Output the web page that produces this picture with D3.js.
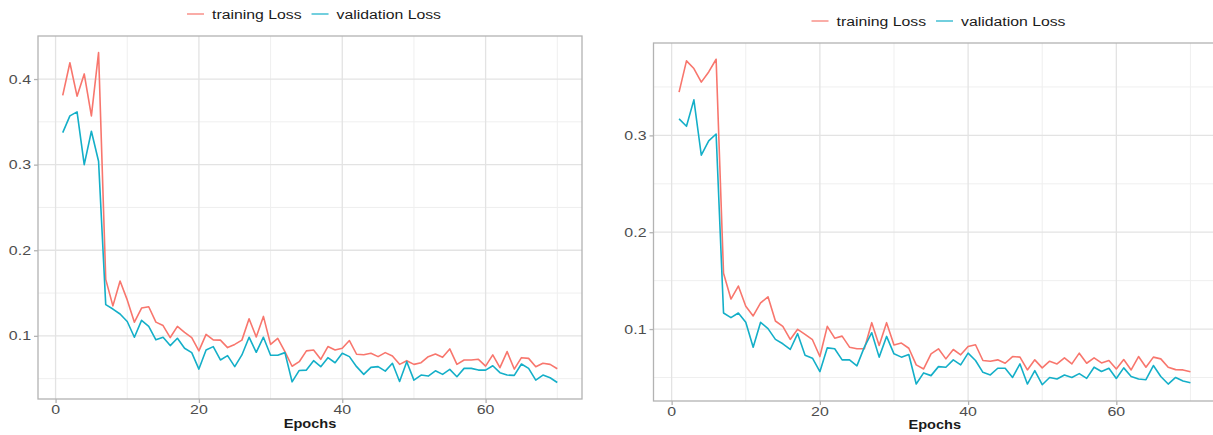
<!DOCTYPE html>
<html>
<head>
<meta charset="utf-8">
<script src="https://cdn.jsdelivr.net/npm/d3@7"></script>
<style>
  html, body { margin: 0; padding: 0; background: #fff; }
  svg { display: block; }
  text { font-family: "Liberation Sans", Arial, Helvetica, sans-serif; }
</style>
</head>
<body>
<svg id="chart" width="1213" height="435"></svg>
<script>
// ---------------- data ----------------
const epochs = d3.range(1, 71);
const seriesNames = ["training Loss", "validation Loss"];
const xTicks = [0, 20, 40, 60];
const xMinor = [10, 30, 50, 70];
const yTicksLeft = [0.1, 0.2, 0.3, 0.4];
const yMinorLeft = [0.05, 0.15, 0.25, 0.35];
const yTicksRight = [0.1, 0.2, 0.3];
const yMinorRight = [0.05, 0.15, 0.25, 0.35];
const xTitle = "Epochs";

const trainLeft = [0.381,0.419,0.380,0.406,0.357,0.431,0.166,0.135,0.164,0.142,
  0.116,0.1325,0.134,0.116,0.112,0.098,0.111,0.104,0.098,0.0824,
  0.1017,0.0953,0.095,0.0863,0.090,0.095,0.120,0.0987,0.1227,0.090,
  0.097,0.0816,0.0645,0.0698,0.0824,0.0835,0.0726,0.0875,0.0835,0.0855,
  0.0945,0.0785,0.078,0.0796,0.0757,0.0804,0.0765,0.0667,0.071,0.0667,
  0.0686,0.0757,0.0788,0.0749,0.0847,0.0667,0.0718,0.0718,0.0726,0.0647,
  0.0777,0.0628,0.0816,0.0612,0.0745,0.0737,0.064,0.0679,0.0667,0.0616];
const valLeft = [0.3374,0.357,0.3617,0.300,0.339,0.304,0.1364,0.1313,0.1255,0.1168,
  0.0984,0.1181,0.111,0.0953,0.0984,0.0886,0.0972,0.0855,0.0804,0.0612,
  0.0835,0.0874,0.0718,0.0769,0.064,0.0777,0.0984,0.0808,0.0984,0.0773,
  0.0773,0.0804,0.0463,0.0596,0.060,0.071,0.064,0.0745,0.0686,0.0796,
  0.0757,0.064,0.055,0.0632,0.064,0.0588,0.0679,0.0467,0.0698,0.0483,
  0.0542,0.053,0.0592,0.055,0.0608,0.0522,0.062,0.062,0.060,0.060,
  0.0651,0.057,0.0542,0.0538,0.0671,0.062,0.0483,0.0542,0.051,0.0455];
const trainRight = [0.3447,0.377,0.369,0.355,0.3655,0.3786,0.1576,0.131,0.1444,0.1236,
  0.1135,0.127,0.1333,0.1083,0.1028,0.0893,0.0997,0.0945,0.089,0.0716,
  0.1028,0.0906,0.0927,0.0813,0.0796,0.0796,0.1066,0.0831,0.1066,0.0835,
  0.0855,0.0802,0.063,0.0588,0.0744,0.0796,0.0692,0.0789,0.0734,0.082,
  0.0838,0.0675,0.0668,0.0682,0.0647,0.0716,0.071,0.0578,0.0682,0.0599,
  0.0668,0.064,0.0703,0.064,0.0751,0.0647,0.0703,0.065,0.0675,0.0588,
  0.0685,0.0578,0.0716,0.0606,0.071,0.0692,0.0606,0.0581,0.0578,0.056];
const valRight = [0.317,0.3094,0.3367,0.2795,0.2944,0.3014,0.1166,0.1118,0.1166,0.107,
  0.0813,0.107,0.1004,0.0893,0.0848,0.0789,0.0952,0.073,0.0699,0.056,
  0.0806,0.0796,0.0682,0.0682,0.062,0.0813,0.0962,0.071,0.0924,0.0744,
  0.071,0.0737,0.0432,0.0547,0.0519,0.0612,0.0606,0.0682,0.063,0.0751,
  0.0675,0.0553,0.0526,0.0595,0.0595,0.050,0.064,0.0432,0.057,0.0425,
  0.050,0.0484,0.0526,0.050,0.054,0.049,0.0606,0.0561,0.0595,0.049,
  0.0599,0.051,0.0484,0.0477,0.0623,0.051,0.0432,0.050,0.0463,0.0446];

// ---------------- style ----------------
const colors = ["#F8766D", "#14AFC8"];
const SX = 1.18; // horizontal stretch of the reference's text

const svg = d3.select("#chart");

function stretchedText(g, x, y, str, opts) {
  const t = g.append("text")
    .attr("transform", `translate(${x},${y}) scale(${opts.sx || SX},1)`)
    .attr("text-anchor", opts.anchor || "start")
    .attr("dominant-baseline", opts.baseline || "auto")
    .attr("font-size", opts.size)
    .attr("font-weight", opts.weight || "normal")
    .attr("fill", opts.fill)
    .text(str);
  return t;
}

function drawPanel(cfg) {
  const g = svg.append("g");
  const allVals = cfg.series.flat();
  const ext = d3.extent(allVals);
  const r = ext[1] - ext[0];
  const xExt = d3.extent(epochs);
  const xr = xExt[1] - xExt[0];

  const x = d3.scaleLinear()
    .domain([xExt[0] - 0.05 * xr, xExt[1] + 0.05 * xr])
    .range([cfg.left, cfg.right]);
  const y = d3.scaleLinear()
    .domain([ext[0] - 0.05 * r, ext[1] + 0.05 * r])
    .range([cfg.bottom, cfg.top]);

  const clipId = "clip" + cfg.id;
  svg.append("clipPath").attr("id", clipId)
    .append("rect").attr("x", cfg.left).attr("y", cfg.top)
    .attr("width", cfg.right - cfg.left).attr("height", cfg.bottom - cfg.top);

  const grid = g.append("g").attr("clip-path", `url(#${clipId})`);
  // minor grid
  grid.selectAll(".ymin").data(cfg.yMinor).join("line")
    .attr("x1", cfg.left).attr("x2", cfg.right)
    .attr("y1", d => y(d)).attr("y2", d => y(d))
    .attr("stroke", "#efefef").attr("stroke-width", 1);
  grid.selectAll(".xmin").data(xMinor).join("line")
    .attr("y1", cfg.top).attr("y2", cfg.bottom)
    .attr("x1", d => x(d)).attr("x2", d => x(d))
    .attr("stroke", "#efefef").attr("stroke-width", 1);
  // major grid
  grid.selectAll(".ymaj").data(cfg.yTicks).join("line")
    .attr("x1", cfg.left).attr("x2", cfg.right)
    .attr("y1", d => y(d)).attr("y2", d => y(d))
    .attr("stroke", "#e3e3e3").attr("stroke-width", 1.3);
  grid.selectAll(".xmaj").data(xTicks).join("line")
    .attr("y1", cfg.top).attr("y2", cfg.bottom)
    .attr("x1", d => x(d)).attr("x2", d => x(d))
    .attr("stroke", "#e3e3e3").attr("stroke-width", 1.3);

  // lines
  const line = d3.line().x((d, i) => x(epochs[i])).y(d => y(d));
  cfg.series.forEach((s, k) => {
    grid.append("path").datum(s)
      .attr("d", line)
      .attr("fill", "none")
      .attr("stroke", colors[k])
      .attr("stroke-width", 1.6)
      .attr("stroke-linejoin", "round");
  });

  // border
  g.append("rect")
    .attr("x", cfg.left).attr("y", cfg.top)
    .attr("width", cfg.right - cfg.left).attr("height", cfg.bottom - cfg.top)
    .attr("fill", "none").attr("stroke", "#b3b3b3").attr("stroke-width", 1.3);

  // y axis ticks + labels
  const yAxis = d3.axisLeft(y).tickValues(cfg.yTicks).tickSize(4).tickFormat(d3.format(".1f"));
  const ya = g.append("g").attr("transform", `translate(${cfg.left},0)`).call(yAxis);
  ya.select(".domain").remove();
  ya.selectAll(".tick line").attr("stroke", "#b3b3b3").attr("stroke-width", 1.3);
  ya.selectAll(".tick text").remove();
  cfg.yTicks.forEach(v => {
    stretchedText(g, cfg.left - 7, y(v), d3.format(".1f")(v),
      {anchor: "end", baseline: "central", size: 13.5, fill: "#4d4d4d"});
  });

  // x axis ticks + labels
  const xAxis = d3.axisBottom(x).tickValues(xTicks).tickSize(4);
  const xa = g.append("g").attr("transform", `translate(0,${cfg.bottom})`).call(xAxis);
  xa.select(".domain").remove();
  xa.selectAll(".tick line").attr("stroke", "#b3b3b3").attr("stroke-width", 1.3);
  xa.selectAll(".tick text").remove();
  xTicks.forEach(v => {
    stretchedText(g, x(v), cfg.bottom + 15, String(v),
      {anchor: "middle", size: 13.5, fill: "#4d4d4d"});
  });

  // x title
  stretchedText(g, (cfg.left + cfg.right) / 2, cfg.xTitleY, xTitle,
    {anchor: "middle", size: 13.5, weight: "bold", fill: "#1a1a1a", sx: 1.08});

  // legend
  const lg = svg.append("g");
  const items = [];
  let cur = 0;
  seriesNames.forEach((name, k) => {
    const key = lg.append("line")
      .attr("y1", cfg.legendY).attr("y2", cfg.legendY)
      .attr("stroke", colors[k]).attr("stroke-width", 1.6).attr("opacity", 0.75);
    const t = stretchedText(lg, 0, cfg.legendY, name,
      {baseline: "central", size: 13.5, fill: "#1a1a1a", sx: 1.17});
    const w = t.node().getComputedTextLength() * 1.17;
    items.push({key, t, start: cur, w});
    cur += 17 + 8 + w + 10;
  });
  const total = cur - 10;
  const x0 = cfg.legendCX - total / 2;
  items.forEach(it => {
    const sx = x0 + it.start;
    it.key.attr("x1", sx).attr("x2", sx + 17);
    it.t.attr("transform", `translate(${sx + 25},${cfg.legendY}) scale(1.17,1)`);
  });
}

drawPanel({
  id: "L", left: 38, right: 582, top: 36, bottom: 399,
  series: [trainLeft, valLeft],
  yTicks: yTicksLeft, yMinor: yMinorLeft,
  legendCX: 314, legendY: 14, xTitleY: 428
});
drawPanel({
  id: "R", left: 653.5, right: 1216, top: 43, bottom: 401,
  series: [trainRight, valRight],
  yTicks: yTicksRight, yMinor: yMinorRight,
  legendCX: 938.5, legendY: 21, xTitleY: 429
});
</script>
</body>
</html>
